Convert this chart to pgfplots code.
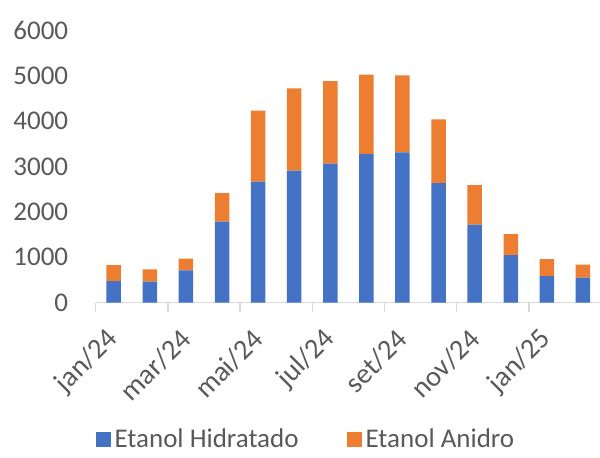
\documentclass[border=0pt]{standalone}
\usepackage{pgfplots}
\pgfplotsset{compat=1.18}
\usepackage{fontspec}
\setmainfont{Carlito}
\definecolor{hid}{HTML}{4472C4}
\definecolor{ani}{HTML}{ED7D31}
\definecolor{lbl}{HTML}{595959}
\definecolor{axl}{HTML}{D9D9D9}
\begin{document}
\begin{tikzpicture}
\begin{axis}[name=ax, at={(0,0)}, anchor=south west,
  scale only axis, width=252.65pt, height=136.35pt,
  ybar stacked, bar width=7.25pt,
  xmin=-0.5, xmax=13.5, ymin=0, ymax=6000,
  axis x line*=bottom, axis y line*=left,
  y axis line style={draw=none},
  x axis line style={draw=axl, line width=0.75pt},
  xtick={0,2,...,12},
  xticklabels={jan/24,mar/24,mai/24,jul/24,set/24,nov/24,jan/25},
  major x tick style={draw=none},
  minor xtick={-0.5,1.5,...,13.5},
  minor x tick style={draw=axl, line width=0.75pt},
  minor tick length=4.5pt,
  tick align=outside,
  ytick={0,1000,...,6000},
  major y tick style={draw=none},
  major tick length=0pt,
  tick label style={font=\fontsize{13.5}{16}\selectfont, text=lbl},
  /pgf/number format/assume math mode=true,
  /pgf/number format/1000 sep={},
  xticklabel style={font=\fontsize{14.25}{17}\selectfont, xshift=2.5pt, yshift=-13.5pt, rotate=45, anchor=east},
  yticklabel style={xshift=-10.25pt},
  legend style={at={(0.418,-0.503)}, anchor=center, draw=none, fill=none,
    legend columns=2, font=\fontsize{13.5}{16}\selectfont, text=lbl,
    /tikz/every even column/.append style={column sep=22pt}},
  legend image code/.code={\fill[#1] (0pt,-3.75pt) rectangle (7.5pt,3.75pt);},
]
\addplot[fill=hid, draw=none] coordinates {
(0,477) (1,462) (2,711) (3,1782) (4,2663) (5,2905) (6,3059)
(7,3271) (8,3308) (9,2633) (10,1716) (11,1049) (12,587) (13,550)};
\addlegendentry{Etanol Hidratado}
\addplot[fill=ani, draw=none] coordinates {
(0,352) (1,271) (2,257) (3,631) (4,1562) (5,1811) (6,1819)
(7,1746) (8,1694) (9,1401) (10,873) (11,462) (12,374) (13,286)};
\addlegendentry{Etanol Anidro}
\end{axis}
\pgfresetboundingbox
\path[use as bounding box] ([xshift=-47.85pt,yshift=-77.15pt]ax.south west) rectangle ([xshift=-0.5pt,yshift=15pt]ax.north east);
\end{tikzpicture}
\end{document}
